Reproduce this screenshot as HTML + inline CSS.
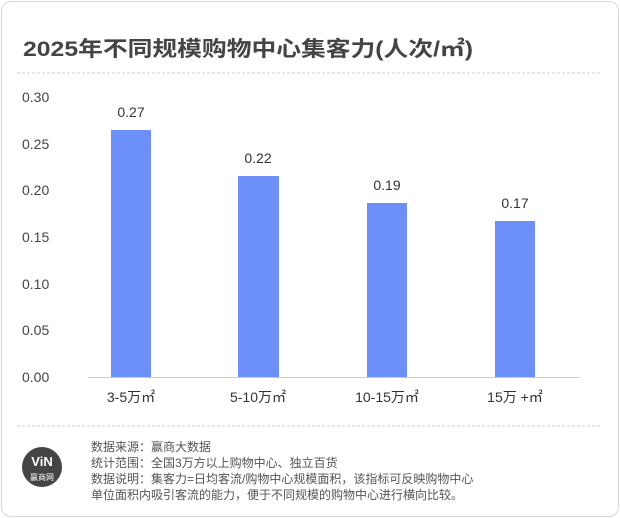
<!DOCTYPE html>
<html><head><meta charset="utf-8"><style>
body{margin:0;width:620px;height:518px;background:#fff;font-family:"Liberation Sans","Noto Sans CJK SC",sans-serif;overflow:hidden}
.card{position:absolute;left:1px;top:1px;width:616px;height:514px;border:1px solid #d8d8d8;border-radius:10px}
</style></head><body>
<div class="card"></div>
<svg width="620" height="518" style="position:absolute;left:0;top:0" font-family="Liberation Sans, Noto Sans CJK SC, sans-serif">
<text x="23" y="56" font-size="21" font-weight="bold" fill="#444" textLength="450" lengthAdjust="spacingAndGlyphs">2025年不同规模购物中心集客力(人次/㎡)</text>
<line x1="17" y1="73" x2="600" y2="73" stroke="#ccc" stroke-dasharray="3,2"/>
<g font-size="14" fill="#444" text-anchor="start">
<text x="22" y="102">0.30</text><text x="22" y="149">0.25</text><text x="22" y="195">0.20</text>
<text x="22" y="242">0.15</text><text x="22" y="289">0.10</text><text x="22" y="335">0.05</text><text x="22" y="382">0.00</text>
</g>
<line x1="88" y1="377.5" x2="580" y2="377.5" stroke="#ccc"/>
<g fill="#6d8ff8">
<rect x="111" y="130" width="40" height="247"/>
<rect x="238" y="176" width="41" height="201"/>
<rect x="367" y="203" width="40" height="174"/>
<rect x="495" y="221" width="40" height="156"/>
</g>
<g font-size="14" fill="#333" text-anchor="middle">
<text x="131" y="117">0.27</text><text x="258" y="163">0.22</text><text x="387" y="190">0.19</text><text x="515" y="208">0.17</text>
<text x="131" y="402">3-5万㎡</text><text x="258" y="402">5-10万㎡</text><text x="387" y="402">10-15万㎡</text><text x="515" y="402">15万 +㎡</text>
</g>
<line x1="17" y1="426" x2="600" y2="426" stroke="#ccc" stroke-dasharray="3,2"/>
<circle cx="42" cy="467" r="20" fill="#444"/>
<text x="42" y="466" font-size="13" font-weight="bold" fill="#fff" text-anchor="middle">ViN</text>
<text x="42" y="480" font-size="8" fill="#fff" text-anchor="middle">赢商网</text>
<g font-size="12" fill="#555">
<text x="91" y="451">数据来源：赢商大数据</text>
<text x="91" y="467">统计范围：全国3万方以上购物中心、独立百货</text>
<text x="91" y="483">数据说明：集客力=日均客流/购物中心规模面积，该指标可反映购物中心</text>
<text x="91" y="499">单位面积内吸引客流的能力，便于不同规模的购物中心进行横向比较。</text>
</g>
</svg>
</body></html>
